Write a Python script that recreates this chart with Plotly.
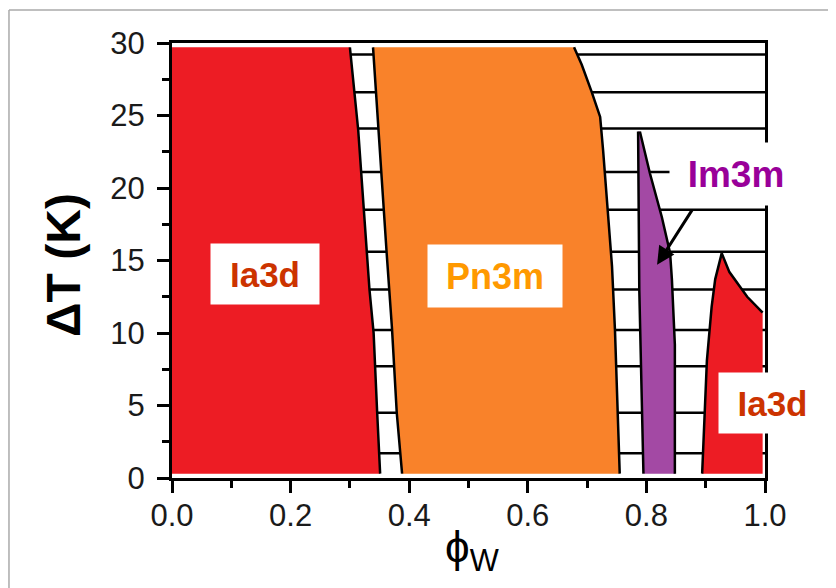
import plotly.graph_objects as go

# ---------------- data ----------------
# measured isotherms (K) drawn as horizontal hatch lines
isotherms = [29.2, 26.6, 24.1, 21.1, 18.5, 15.6, 13.0, 10.2, 7.7, 4.5, 1.7]

# Ia3d (low phi_W) region
ia3d_l_left_x = [0.0, 0.0]
ia3d_l_left_y = [0.3, 29.7]
ia3d_l_right_x = [0.300, 0.314, 0.333, 0.340, 0.346, 0.351]
ia3d_l_right_y = [29.7, 24.0, 13.0, 10.0, 4.5, 0.3]

# Pn3m region
pn3m_left_x = [0.339, 0.348, 0.362, 0.371, 0.379, 0.388]
pn3m_left_y = [29.7, 24.0, 15.5, 10.3, 4.5, 0.3]
pn3m_right_x = [0.678, 0.691, 0.708, 0.722, 0.727, 0.730, 0.735, 0.742, 0.747, 0.752, 0.755]
pn3m_right_y = [29.7, 28.5, 26.6, 24.9, 22.6, 21.0, 18.3, 14.6, 10.2, 4.5, 0.3]

# Im3m region
im3m_left_x = [0.786, 0.788, 0.795]
im3m_left_y = [23.9, 13.0, 0.3]
im3m_right_x = [0.789, 0.806, 0.826, 0.840, 0.843, 0.848, 0.848]
im3m_right_y = [23.9, 21.0, 18.0, 15.5, 13.7, 9.2, 0.3]

# Ia3d (high phi_W) region
ia3d_r_left_x = [0.927, 0.916, 0.910, 0.902, 0.894]
ia3d_r_left_y = [15.5, 13.7, 11.8, 8.1, 0.3]
ia3d_r_right_x = [0.927, 0.940, 0.970, 0.996, 0.996]
ia3d_r_right_y = [15.5, 14.2, 12.5, 11.4, 0.3]

phase_labels = ["Ia3d", "Pn3m", "Im3m", "Ia3d"]

# ---------------- styles ----------------
RED = "#ED1C24"
ORANGE = "#F9822A"
PURPLE = "#A349A4"
FONT = "Liberation Sans, Arial, sans-serif"

fig = go.Figure()

# hatch lines (isotherms)
hx, hy = [], []
for t in isotherms:
    hx += [0.0, 1.0, None]
    hy += [t, t, None]
fig.add_trace(go.Scatter(x=hx, y=hy, mode="lines",
                         line=dict(color="black", width=2.5),
                         hoverinfo="skip", showlegend=False))


def polygon(left_x, left_y, right_x, right_y, color, name):
    lx, ly = list(left_x), list(left_y)
    if ly[0] > ly[-1]:
        lx, ly = lx[::-1], ly[::-1]
    rx, ry = list(right_x), list(right_y)
    if ry[0] < ry[-1]:
        rx, ry = rx[::-1], ry[::-1]
    xs = lx + rx + [lx[0]]
    ys = ly + ry + [ly[0]]
    fig.add_trace(go.Scatter(x=xs, y=ys, mode="lines", fill="toself",
                             fillcolor=color, line=dict(width=0, color=color),
                             name=name, hoverinfo="name", showlegend=False))


polygon(ia3d_l_left_x, ia3d_l_left_y, ia3d_l_right_x, ia3d_l_right_y, RED, phase_labels[0])
polygon(pn3m_left_x, pn3m_left_y, pn3m_right_x, pn3m_right_y, ORANGE, phase_labels[1])
polygon(im3m_left_x, im3m_left_y, im3m_right_x, im3m_right_y, PURPLE, phase_labels[2])
polygon(ia3d_r_left_x, ia3d_r_left_y, ia3d_r_right_x, ia3d_r_right_y, RED, phase_labels[3])

# phase boundaries
boundaries = [
    (ia3d_l_right_x, ia3d_l_right_y),
    (pn3m_left_x, pn3m_left_y),
    (pn3m_right_x, pn3m_right_y),
    (im3m_left_x, im3m_left_y),
    (im3m_right_x, im3m_right_y),
    (ia3d_r_left_x, ia3d_r_left_y),
    (ia3d_r_right_x[:4], ia3d_r_right_y[:4]),
]
for bx, by in boundaries:
    fig.add_trace(go.Scatter(x=bx, y=by, mode="lines",
                             line=dict(color="black", width=2.5),
                             hoverinfo="skip", showlegend=False))

# phase labels (white boxes), positions in paper units (x range is 0..1)
Y_MAX = 30.0
label_specs = [
    dict(x=0.157, y=14.1, color="#CC3300", w=108, h=60, size=35),
    dict(x=0.545, y=13.9, color="#FF9900", w=134, h=62, size=36),
    dict(x=0.951, y=20.97, color="#990099", w=132, h=62, size=37),
    dict(x=1.012, y=5.17, color="#CC3300", w=107, h=60, size=35),
]
for txt, s in zip(phase_labels, label_specs):
    fig.add_annotation(x=s["x"], y=s["y"] / Y_MAX, xref="paper", yref="paper",
                       text=f"<b>{txt}</b>",
                       showarrow=False, bgcolor="white", width=s["w"], height=s["h"],
                       borderpad=0, font=dict(family=FONT, size=s["size"], color=s["color"]),
                       xanchor="center", yanchor="middle")

# arrow from Im3m label to the Im3m region
fig.add_annotation(x=0.818, y=14.7, ax=0.882, ay=18.8, xref="x", yref="y",
                   axref="x", ayref="y", text=" ", showarrow=True,
                   arrowhead=2, arrowsize=1.2, arrowwidth=3, arrowcolor="black")

# axis titles
fig.add_annotation(x=-0.182, y=0.49, xref="paper", yref="paper",
                   text="<b>ΔT (K)</b>", textangle=-90, showarrow=False,
                   font=dict(family=FONT, size=48, color="black"),
                   xanchor="center", yanchor="middle")
fig.add_annotation(x=0.506, y=-0.165, xref="paper", yref="paper",
                   text="ϕ<sub>W</sub>", showarrow=False,
                   font=dict(family=FONT, size=44, color="black"),
                   xanchor="center", yanchor="middle")

# gray outer frame
fig.add_shape(type="line", xref="paper", yref="paper",
              x0=-0.2749, x1=1.3, y0=1.0759, y1=1.0759,
              line=dict(color="#AAAAAA", width=1.5))
fig.add_shape(type="line", xref="paper", yref="paper",
              x0=-0.2749, x1=-0.2749, y0=1.0759, y1=-0.3,
              line=dict(color="#AAAAAA", width=1.5))

axis_common = dict(showgrid=False, zeroline=False, showline=True, linecolor="black",
                   linewidth=3, mirror=True, ticks="outside", tickcolor="black",
                   tickwidth=3, ticklen=12, automargin=False,
                   tickfont=dict(family=FONT, size=31, color="#1a1a1a"))

fig.update_xaxes(range=[0, 1], dtick=0.2, tick0=0, tickformat=".1f",
                 minor=dict(dtick=0.1, ticks="outside", ticklen=7, tickwidth=3,
                            tickcolor="black"),
                 ticklabelstandoff=-4, **axis_common)
fig.update_yaxes(range=[0, 30], dtick=5, tick0=0,
                 minor=dict(dtick=2.5, ticks="outside", ticklen=7, tickwidth=3,
                            tickcolor="black"),
                 ticklabelstandoff=6, **axis_common)

# page body has an 8px default margin: compensate so the plot area lands at 172..765 x 43..478
fig.update_layout(width=836, height=588, autosize=False,
                  margin=dict(l=164, r=79, t=35, b=118),
                  plot_bgcolor="white", paper_bgcolor="white",
                  showlegend=False)

fig.write_html("out.html")
